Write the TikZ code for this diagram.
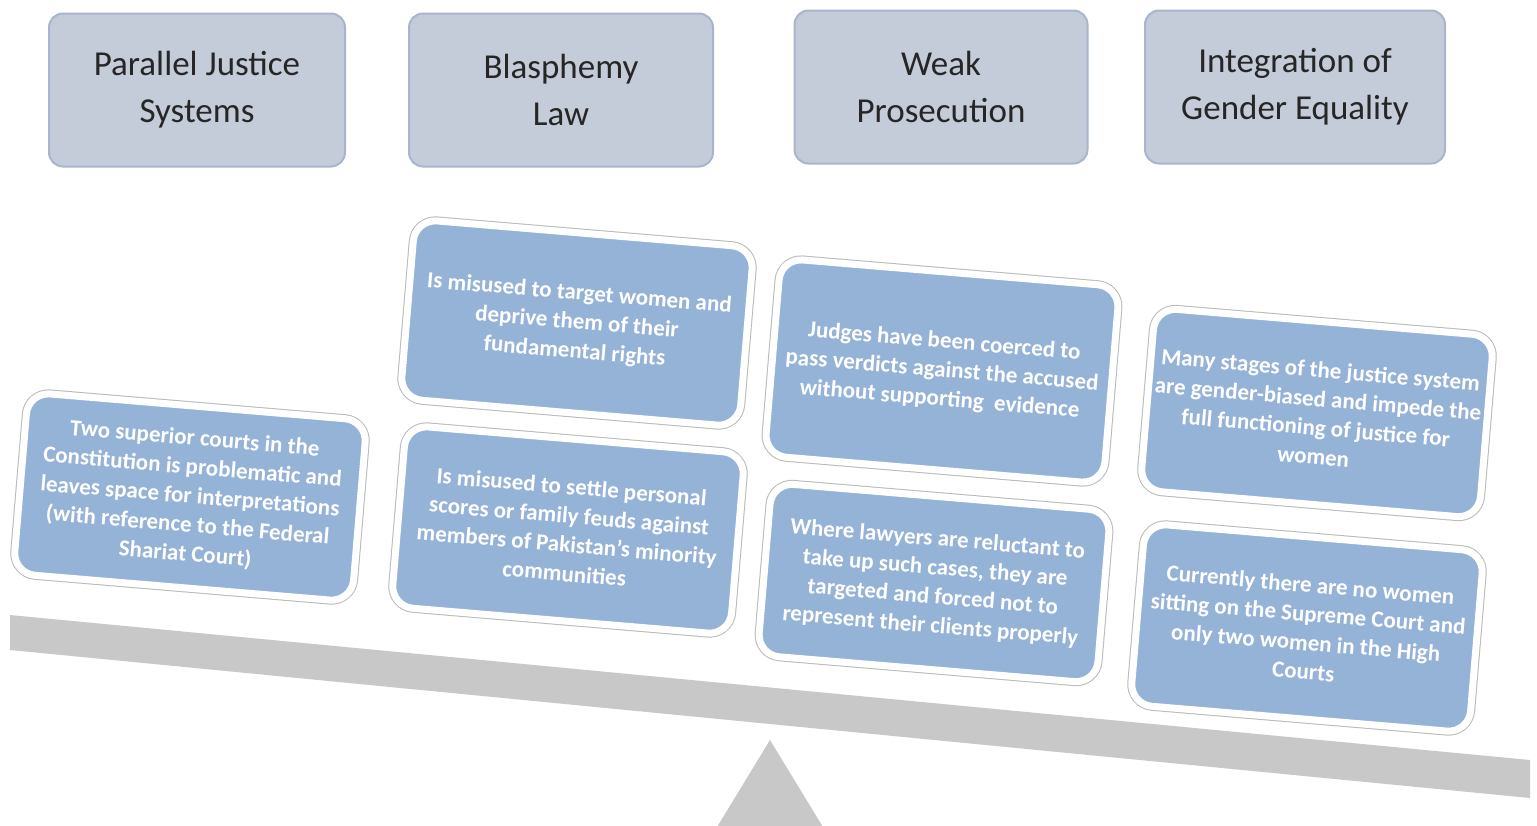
\documentclass[tikz,border=0pt]{standalone}
\usepackage{fontspec}
\setmainfont{Carlito}
\usetikzlibrary{positioning}
\definecolor{HeadFill}{RGB}{196,203,217}
\definecolor{HeadLine}{RGB}{168,181,203}
\definecolor{NoteFill}{RGB}{149,179,215}
\definecolor{BeamGray}{RGB}{200,200,200}

\begin{document}
\begin{tikzpicture}[x=1pt,y=-1pt,
        HeadCfg/.style={
            draw=HeadLine, line width=2pt, fill=HeadFill,
            rounded corners=14pt,
            minimum width=296pt, minimum height=153pt,
            align=center, text=black!85,
            font=\fontsize{35}{47}\selectfont
        },
        NoteCfg/.style={
            preaction={draw=gray!55, line width=9pt},
            draw=white, line width=7pt, fill=NoteFill,
            rounded corners=22pt,
            minimum width=340pt, minimum height=180pt,
            align=center, text=white, rotate=-4.8,
            font=\fontsize{23}{29}\selectfont\bfseries
        }
    ]
    \useasboundingbox (0,0) rectangle (1537,825);

    % balance
    \fill[BeamGray] (10,615)--(1530,760)--(1530,798)--(10,650)--cycle;
    \fill[BeamGray] (770,740)--(826,832)--(714,832)--cycle;

    % headings
    \node[HeadCfg] (HeadParallel) at (197,90) {Parallel Justice\\Systems};
    \node[HeadCfg,minimum width=304pt] (HeadBlasphemy) at (561,90) {Blasphemy\\Law};
    \node[HeadCfg,minimum width=293pt] (HeadWeak) at (941,87) {Weak\\Prosecution};
    \node[HeadCfg,minimum width=300pt] (HeadGender) at (1295,87) {Integration of\\Gender Equality};

    % column 1
    \node[NoteCfg,minimum height=182pt] (NoteCourts) at (190,497) {Two superior courts in the\\Constitution is problematic and\\leaves space for interpretations\\(with reference to the Federal\\Shariat Court)};

    % column 2
    \node[NoteCfg,minimum height=180pt] (NoteTarget) at (577,323) {Is misused to target women and\\deprive them of their\\fundamental rights};
    \node[NoteCfg,minimum height=182pt] (NoteScores) at (568,530) {Is misused to settle personal\\scores or family feuds against\\members of Pakistan's minority\\communities};

    % column 3
    \node[NoteCfg,minimum height=198pt] (NoteJudges) at (942,371) {Judges have been coerced to\\pass verdicts against the accused\\without supporting\ \ evidence};
    \node[NoteCfg,minimum height=173pt] (NoteLawyers) at (934,583) {Where lawyers are reluctant to\\take up such cases, they are\\targeted and forced not to\\represent their clients properly};

    % column 4
    \node[NoteCfg,minimum height=183pt] (NoteStages) at (1317,413) {Many stages of the justice system\\are gender-biased and impede the\\full functioning of justice for\\women};
    \node[NoteCfg,minimum height=182pt] (NoteWomen) at (1307,628) {Currently there are no women\\sitting on the Supreme Court and\\only two women in the High\\Courts};
\end{tikzpicture}
\end{document}
